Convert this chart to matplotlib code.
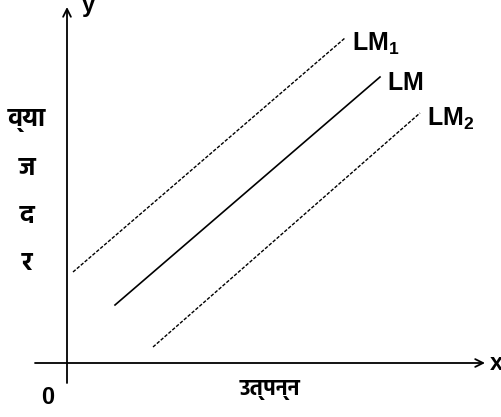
import matplotlib
matplotlib.use("Agg")
import matplotlib.pyplot as plt
from matplotlib import font_manager

# Curves in pixel units measured from the origin (y up)
lm1_x = [6, 278]
lm1_y = [91, 325]
lm_x = [48, 313]
lm_y = [58, 286]
lm2_x = [86, 353]
lm2_y = [16, 250]

curve_labels = ["LM_1", "LM", "LM_2"]
y_label_chars = ["व्या", "ज", "द", "र"]
x_label = "उत्पन्न"

# a Devanagari family that ships a bold face
bold_names = {f.name for f in font_manager.fontManager.ttflist
              if (f.weight if isinstance(f.weight, int) else 400) >= 700}
deva_font = "DejaVu Sans"
for cand in ["Noto Sans Devanagari", "Hind", "Mukta", "Poppins",
             "Anek Devanagari", "Yantramanav", "Martel Sans", "Akshar"]:
    if cand in bold_names:
        deva_font = cand
        break

plt.rcParams["mathtext.fontset"] = "custom"
plt.rcParams["mathtext.rm"] = "Liberation Sans:bold"
plt.rcParams["mathtext.bf"] = "Liberation Sans:bold"
plt.rcParams["mathtext.it"] = "Liberation Sans:bold"

fig = plt.figure(figsize=(5.01, 4.17), dpi=100)
ax = fig.add_axes([0, 0, 1, 1])
ax.set_xlim(-67, 434)
ax.set_ylim(-54, 363)
ax.axis("off")

# axes with open arrow heads
ax.annotate("", xy=(0, 356), xytext=(0, -20),
            arrowprops=dict(arrowstyle="->", lw=1.3, color="black",
                            mutation_scale=14, shrinkA=0, shrinkB=0))
ax.annotate("", xy=(418, 0), xytext=(-32, 0),
            arrowprops=dict(arrowstyle="->", lw=1.3, color="black",
                            mutation_scale=14, shrinkA=0, shrinkB=0))

ax.plot(lm1_x, lm1_y, color="black", lw=1.0, linestyle=(0, (2.5, 1.2)))
ax.plot(lm_x, lm_y, color="black", lw=1.2)
ax.plot(lm2_x, lm2_y, color="black", lw=1.0, linestyle=(0, (2.5, 1.2)))

ends = [(lm1_x[-1], lm1_y[-1]), (lm_x[-1], lm_y[-1]), (lm2_x[-1], lm2_y[-1])]
for (ex, ey), lab in zip(ends, curve_labels):
    ax.text(ex + 7, ey - 6, r"$\mathrm{" + lab + "}$", fontsize=18,
            ha="left", va="center")

ax.text(15, 358, "y", fontsize=17, fontweight="bold", family="Liberation Sans",
        ha="left", va="center")
ax.text(423, 0, "x", fontsize=17, fontweight="bold", family="Liberation Sans",
        ha="left", va="center")
ax.text(-19, -34, "0", fontsize=17, fontweight="bold", family="Liberation Sans",
        ha="center", va="center")

for i, ch in enumerate(y_label_chars):
    ax.text(-40, 243 - i * 48, ch, fontsize=18, fontweight="bold",
            family=[deva_font, "DejaVu Sans"], ha="center", va="center")

ax.text(203, -27, x_label, fontsize=16, fontweight="bold",
        family=[deva_font, "DejaVu Sans"], ha="center", va="center")

fig.savefig("out.png", dpi=100)
